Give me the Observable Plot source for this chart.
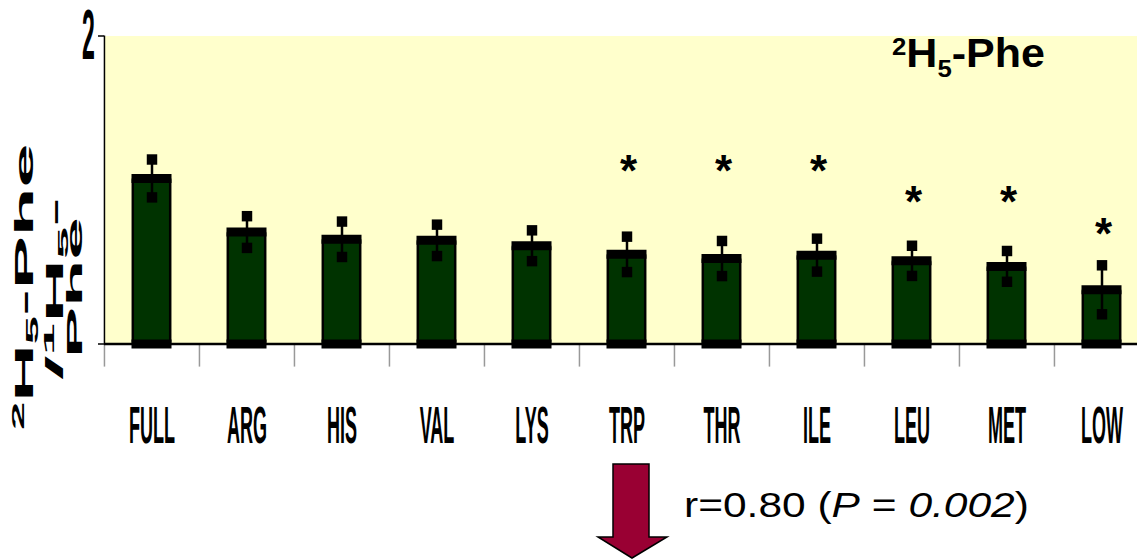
<!DOCTYPE html>
<html><head><meta charset="utf-8">
<script src="https://cdn.jsdelivr.net/npm/d3@7"></script>
<script src="https://cdn.jsdelivr.net/npm/@observablehq/plot@0.6"></script>
<style>
html,body{margin:0;padding:0;background:#fff;}
svg{display:block;}
</style></head><body><div id="chart"></div>
<script>
// ---- data ----
const categories = ["FULL","ARG","HIS","VAL","LYS","TRP","THR","ILE","LEU","MET","LOW"];
const means = [1.075, 0.727, 0.68, 0.673, 0.638, 0.582, 0.555, 0.577, 0.54, 0.504, 0.352];
const ses   = [0.123, 0.103, 0.115, 0.102, 0.100, 0.115, 0.114, 0.107, 0.098, 0.100, 0.159];
const starCategories = ["TRP","THR","ILE","LEU","MET","LOW"];
const starValues = [1.184, 1.184, 1.184, 0.982, 0.982, 0.773];
const yTickValues = [0, 2];
const yTickLabels = ["2"];
const yLabelValues = [2];

const data = categories.map((c, i) => ({aa: c, mean: means[i], se: ses[i]}));
const stars = starCategories.map((c, i) => ({aa: c, y: starValues[i]}));

const W = 1137, H = 560;
const x0 = 104, yTop = 35.5, yBottom = 343.5;
const step = 95.09;
const FONT = "'Liberation Sans', Arial, sans-serif";

const plot = Plot.plot({
  width: W, height: H,
  marginLeft: x0, marginRight: 0, marginTop: yTop, marginBottom: H - yBottom,
  x: {domain: categories, range: [x0, x0 + step * categories.length], padding: 0, axis: null},
  y: {domain: [0, 2], axis: null},
  style: {fontFamily: FONT, background: "white", overflow: "visible", color: "black"},
  marks: [
    Plot.frame({fill: "#FFFFCC", stroke: null}),
    Plot.ruleX(categories, {x: d => d, dx: -step / 2, y1: 0, y2: -0.15, stroke: "#999", strokeWidth: 1.5}),
    Plot.ruleX([categories[0]], {x: d => d, dx: -step / 2, y1: 0, y2: 2, stroke: "black", strokeWidth: 1.5}),
    Plot.axisY({ticks: yTickValues, tickSize: 6, tickFormat: () => "", label: null, strokeWidth: 1.5}),
    Plot.ruleY([0], {stroke: "black", strokeWidth: 2.5}),
    Plot.barY(data, {x: "aa", y: "mean", fill: "#003300", stroke: "black", strokeWidth: 2.5,
      insetLeft: 28.8, insetRight: 28.8, rx: 2}),
    Plot.tickY(data, {x: "aa", y: "mean", stroke: "black", strokeWidth: 9, insetLeft: 27.5, insetRight: 27.5}),
    Plot.tickY(data, {x: "aa", y: () => 0, stroke: "black", strokeWidth: 9, insetLeft: 27.5, insetRight: 27.5}),
    Plot.ruleX(data, {x: "aa", y1: d => d.mean - d.se, y2: d => d.mean + d.se, stroke: "black", strokeWidth: 2.5}),
    Plot.dot(data, {x: "aa", y: d => d.mean + d.se, symbol: "square", fill: "black", r: 5.9}),
    Plot.dot(data, {x: "aa", y: d => d.mean - d.se, symbol: "square", fill: "black", r: 5.9}),
    Plot.text(stars, {x: "aa", y: "y", text: () => "*", fontSize: 44, fontWeight: "bold", dy: 10, dx: 1.5}),
    Plot.text(categories, {x: d => d, text: d => d, frameAnchor: "bottom", lineAnchor: "middle", dy: 82, fontSize: 22, fontWeight: "bold"}),
    Plot.text(yLabelValues, {y: d => d, text: (d, i) => yTickLabels[i], frameAnchor: "left", lineAnchor: "middle", dx: -22.5, fontSize: 22, fontWeight: "bold"})
  ]
});
document.getElementById("chart").appendChild(plot);

// stretch text labels (condensed tall look)
function stretch(el, sx, sy) {
  const t = el.getAttribute("transform");
  if (t) el.setAttribute("transform", t + ` scale(${sx},${sy})`);
  else {
    const x = +el.getAttribute("x") || 0, y = +el.getAttribute("y") || 0;
    el.setAttribute("transform", `translate(${x},${y}) scale(${sx},${sy}) translate(${-x},${-y})`);
  }
}
const svg = d3.select(plot);
svg.selectAll("text").each(function() {
  const s = this.textContent;
  if (categories.includes(s)) stretch(this, 0.82, 2.35);
  else if (yTickLabels.includes(s)) stretch(this, 1.05, 3.2);
});

// annotation text helper
function addText({x, y, rotate = 0, size, weight = "normal", parts, target}) {
  const g = svg.append("g");
  const t = g.append("text").attr("font-family", FONT).attr("font-size", size)
    .attr("font-weight", weight).attr("fill", "black").attr("text-anchor", "start");
  parts.forEach(p => {
    const sp = t.append("tspan").text(p.text);
    if (p.size) sp.attr("font-size", p.size);
    if (p.dy) sp.attr("dy", p.dy);
    if (p.italic) sp.attr("font-style", "italic");
  });
  const len = t.node().getBBox().width;
  const s = target / len;
  g.attr("transform", `translate(${x},${y}) rotate(${rotate}) scale(${s},1)`);
}

// title
addText({x: 892, y: 67, size: 40, weight: "bold", target: 153, parts: [
  {text: "2", size: 24, dy: -12}, {text: "H", dy: 12}, {text: "5", size: 24, dy: 10}, {text: "-Phe", dy: -10}
]});
// correlation
addText({x: 684, y: 517, size: 36, target: 345, parts: [
  {text: "r=0.80 ("}, {text: "P", italic: true}, {text: " = "}, {text: "0.002", italic: true}, {text: ")"}
]});
// y label (three stretched rotated lines)
addText({x: 33, y: 430, rotate: -90, size: 25, weight: "bold", target: 287, parts: [
  {text: "2", size: 16, dy: -9}, {text: "H", dy: 9}, {text: "5", size: 16, dy: 5}, {text: "-Phe", dy: -5}
]});
addText({x: 63, y: 380, rotate: -90, size: 23, weight: "bold", target: 183, parts: [
  {text: "/"}, {text: "1", size: 15, dy: -9}, {text: "H", dy: 9}, {text: "5", size: 15, dy: 5}, {text: "-", dy: -5}
]});
addText({x: 82, y: 358, rotate: -90, size: 22, weight: "bold", target: 141, parts: [{text: "Phe"}]});

// arrow
svg.append("path")
  .attr("d", "M613,464 L649,464 L649,537 L667,537 L632,558 L598,537 L613,537 Z")
  .attr("fill", "#990033").attr("stroke", "black").attr("stroke-width", 1.5);
</script></body></html>
